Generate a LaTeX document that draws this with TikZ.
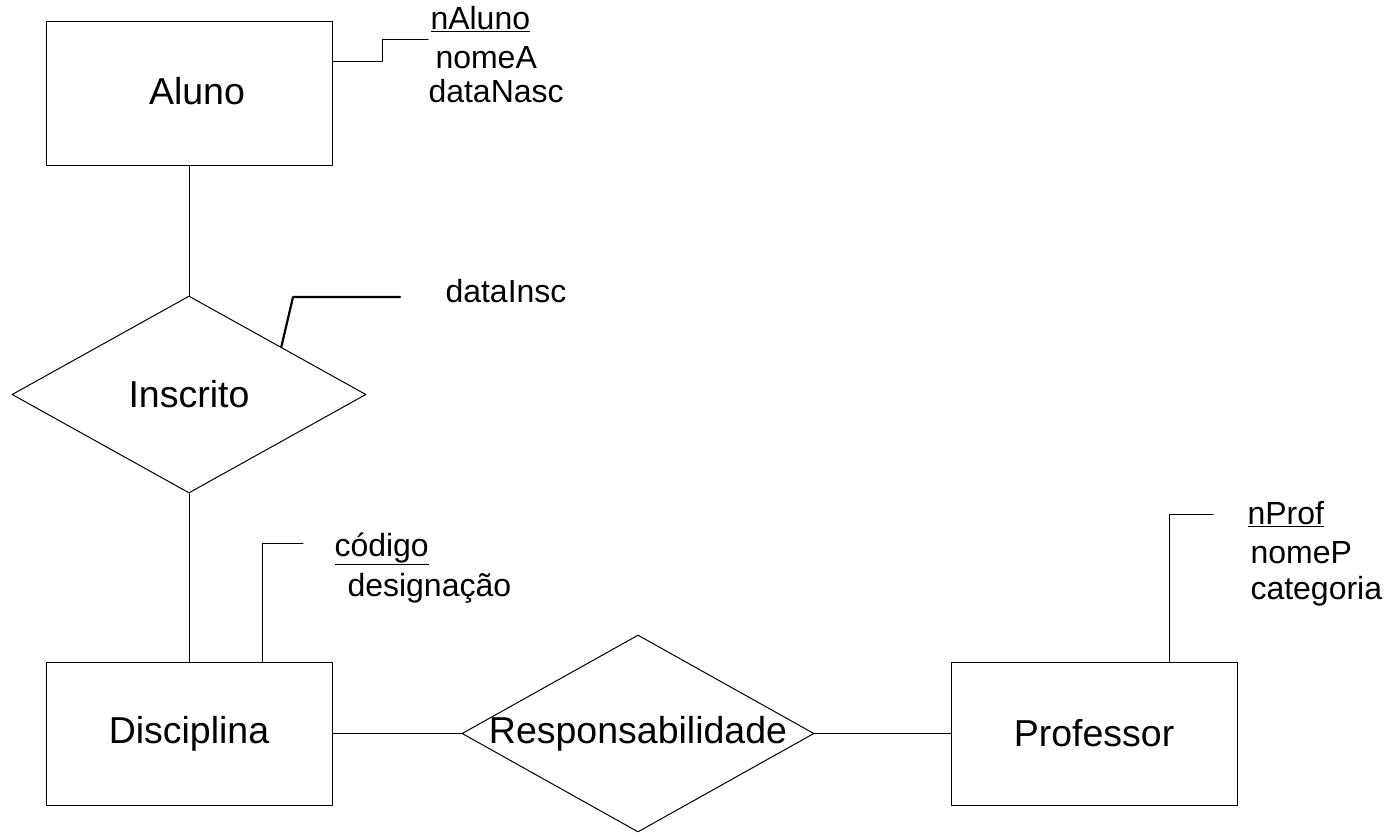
\documentclass[tikz,border=0pt]{standalone}
\usepackage{fontspec}
\setmainfont{Liberation Sans}
\usetikzlibrary{shapes.geometric,calc}

\tikzset{
  entity/.style={draw,inner sep=0pt,minimum width=286pt,minimum height=144pt,font=\fontsize{37.5pt}{44pt}\selectfont},
  relation/.style={draw,shape=diamond,inner sep=0pt,aspect=1.79,minimum width=354pt,minimum height=197pt,
    label={[font=\fontsize{37.5pt}{44pt}\selectfont]center:#1}},
  attrib/.style={anchor=base west,inner sep=0pt,font=\fontsize{32pt}{37pt}\selectfont},
}

\begin{document}
\begin{tikzpicture}[line cap=round,line join=round,line width=1pt,x=1pt,y=-1pt]
\useasboundingbox (0,0) rectangle (1392,833);
% entidades e relacoes
\node[entity] (aluno) at (189,93) {\hspace*{16pt}\raisebox{5pt}{Aluno}};
\node[entity,minimum height=143pt] (disciplina) at (189,733.5) {Disciplina};
\node[entity,minimum height=143pt] (professor) at (1094,733.5) {Professor};
\node[relation=Inscrito] (inscrito) at (189,394.5) {};
\node[relation=Responsabilidade,minimum width=352pt] (resp) at (638,733.5) {};
\draw (aluno.south) -- (inscrito.north);
\draw (inscrito.south) -- (disciplina.north);
\draw (disciplina.east) -- (resp.west);
\draw (resp.east) -- (professor.west);
% atributos
\node[attrib] (nAluno) at (430,29) {\underline{nAluno}};
\node[attrib] (nomeA) at (435,68) {nomeA};
\node[attrib] (dataNasc) at (428,102) {dataNasc};
\node[attrib] (dataInsc) at (445,302) {dataInsc};
\node[attrib] (codigo) at (334,556) {\underline{código}};
\node[attrib] (designacao) at (347,596) {designação};
\node[attrib] (nProf) at (1247,524) {\underline{nProf}};
\node[attrib] (nomeP) at (1250,563) {nomeP};
\node[attrib] (categoria) at (1250,599) {categoria};
\coordinate (alunoEnd) at (428,39);
\coordinate (inscEnd) at (400,297);
\coordinate (codEnd) at (303,543);
\coordinate (profEnd) at (1213,514);
\draw (aluno.east) ++(0,-32) -| (382,39) -- (alunoEnd);
\draw[line width=2.2pt] ($(inscrito.north)!0.52!(inscrito.east)$) -- (293,297) -- (inscEnd);
\draw (disciplina.north west) ++(217,0) |- (codEnd);
\draw (professor.north west) ++(219,0) |- (profEnd);
\end{tikzpicture}
\end{document}
